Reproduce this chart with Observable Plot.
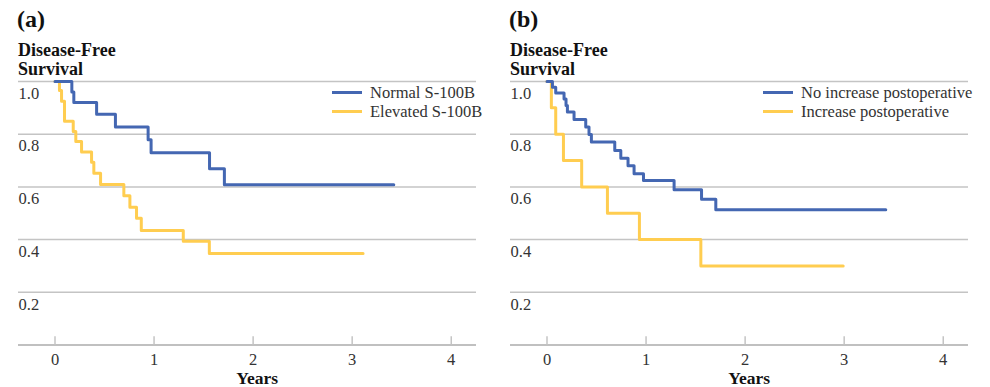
<!DOCTYPE html>
<html>
<head>
<meta charset="utf-8">
<script src="https://cdn.jsdelivr.net/npm/d3@7"></script>
<script src="https://cdn.jsdelivr.net/npm/@observablehq/plot@0.6"></script>
<style>
  html, body { margin: 0; padding: 0; background: #fff; }
  body { width: 990px; height: 387px; overflow: hidden; font-family: 'Liberation Serif', 'Times New Roman', serif; }
  #root { position: relative; width: 990px; height: 387px; }
  .panel { position: absolute; top: 0; width: 490px; height: 387px; font-family: 'Liberation Serif', 'Times New Roman', serif; }
  .tag { position: absolute; left: 17px; top: 7px; font-size: 24px; font-weight: bold; color: #111; line-height: 1; }
  .ytitle { position: absolute; left: 18px; top: 41px; font-size: 18px; font-weight: bold; color: #111; line-height: 19px; }
  .chart { position: absolute; left: 0; top: 70px; }
  .legend { position: absolute; font-size: 16.5px; color: #333; }
  .legend .row { position: absolute; left: 0; white-space: nowrap; height: 19px; }
  .legend .sw { position: absolute; left: 0; top: 8px; width: 30px; height: 3px; }
  .legend .lab { position: absolute; left: 38px; top: 0; line-height: 19px; }
</style>
</head>
<body>
<div id="root"></div>
<script>
// ---------- data ----------
const xTicks = [0, 1, 2, 3, 4];
const yTicks = [0.2, 0.4, 0.6, 0.8, 1.0];
const yTickLabels = ["0.2", "0.4", "0.6", "0.8", "1.0"];

// Panel (a)
const seriesA = ["Normal S-100B", "Elevated S-100B"];
const yearsNormal = [0, 0.17, 0.19, 0.42, 0.61, 0.94, 0.97, 1.56, 1.71, 3.42];
const survNormal  = [1.0, 0.96, 0.92, 0.876, 0.827, 0.779, 0.73, 0.669, 0.608, 0.608];
const yearsElevated = [0, 0.045, 0.066, 0.096, 0.184, 0.21, 0.268, 0.369, 0.392, 0.46, 0.695, 0.756, 0.823, 0.871, 1.295, 1.558, 3.11];
const survElevated  = [1.0, 0.966, 0.925, 0.849, 0.81, 0.772, 0.732, 0.694, 0.652, 0.609, 0.566, 0.523, 0.481, 0.435, 0.394, 0.347, 0.347];

// Panel (b)
const seriesB = ["No increase postoperative", "Increase postoperative"];
const yearsNoInc = [0, 0.055, 0.088, 0.172, 0.192, 0.206, 0.273, 0.391, 0.424, 0.448, 0.684, 0.745, 0.818, 0.879, 0.974, 1.283, 1.56, 1.704, 3.42];
const survNoInc  = [1.0, 0.978, 0.956, 0.934, 0.909, 0.884, 0.856, 0.827, 0.799, 0.770, 0.738, 0.709, 0.680, 0.650, 0.624, 0.589, 0.553, 0.513, 0.513];
const yearsInc = [0, 0.044, 0.088, 0.166, 0.35, 0.61, 0.933, 1.553, 2.99];
const survInc  = [1.0, 0.9, 0.8, 0.7, 0.6, 0.5, 0.4, 0.3, 0.3];

const BLUE = "#4467b2";
const YELLOW = "#ffcd50";
const FONT = "'Liberation Serif', 'Times New Roman', serif";

function rows(xs, ys) { return xs.map((x, i) => ({x, y: ys[i]})); }

function makePanel(left, tag, names, bluePts, yellowPts, legendLeft) {
  const root = document.getElementById("root");
  const p = document.createElement("div");
  p.className = "panel";
  p.style.left = left + "px";
  p.innerHTML = `<div class="tag">${tag}</div><div class="ytitle">Disease-Free<br>Survival</div>`;

  const chart = Plot.plot({
    width: 490,
    height: 317,
    marginTop: 11,
    marginBottom: 42.5,
    marginLeft: 18,
    marginRight: 14,
    style: {fontFamily: FONT, background: "transparent", overflow: "visible"},
    x: {domain: [-0.3685, 4.255], axis: null},
    y: {domain: [0, 1], axis: null},
    marks: [
      Plot.ruleY(yTicks, {stroke: "#c4c4c4", strokeWidth: 1.5}),
      Plot.ruleY([0], {stroke: "#ababab", strokeWidth: 1.5}),
      Plot.ruleX(xTicks, {y1: 0, y2: 0.031, stroke: "#c4c4c4", strokeWidth: 1.5}),
      Plot.text(yTicks, {y: d => d, text: (d, i) => yTickLabels[i], frameAnchor: "left", textAnchor: "start", lineAnchor: "middle", dy: 12, fontSize: 16.5, fill: "#333"}),
      Plot.text(xTicks, {x: d => d, text: d => String(d), frameAnchor: "bottom", textAnchor: "middle", lineAnchor: "middle", dy: 15, fontSize: 16.5, fill: "#333"}),
      Plot.text(["Years"], {x: 2.04, text: d => d, frameAnchor: "bottom", textAnchor: "middle", lineAnchor: "middle", dy: 33, fontSize: 17.5, fontWeight: "bold", fill: "#111"}),
      Plot.line(yellowPts, {x: "x", y: "y", curve: "step-after", stroke: YELLOW, strokeWidth: 3}),
      Plot.line(bluePts, {x: "x", y: "y", curve: "step-after", stroke: BLUE, strokeWidth: 3})
    ]
  });
  const wrap = document.createElement("div");
  wrap.className = "chart";
  wrap.appendChild(chart);
  p.appendChild(wrap);

  const lg = document.createElement("div");
  lg.className = "legend";
  lg.style.left = legendLeft + "px";
  lg.style.top = "83px";
  lg.innerHTML =
    `<div class="row" style="top:0"><div class="sw" style="background:${BLUE}"></div><div class="lab">${names[0]}</div></div>` +
    `<div class="row" style="top:19px"><div class="sw" style="background:${YELLOW}"></div><div class="lab">${names[1]}</div></div>`;
  p.appendChild(lg);
  root.appendChild(p);
}

makePanel(0, "(a)", seriesA, rows(yearsNormal, survNormal), rows(yearsElevated, survElevated), 332);
makePanel(492, "(b)", seriesB, rows(yearsNoInc, survNoInc), rows(yearsInc, survInc), 763 - 492);
</script>
</body>
</html>
